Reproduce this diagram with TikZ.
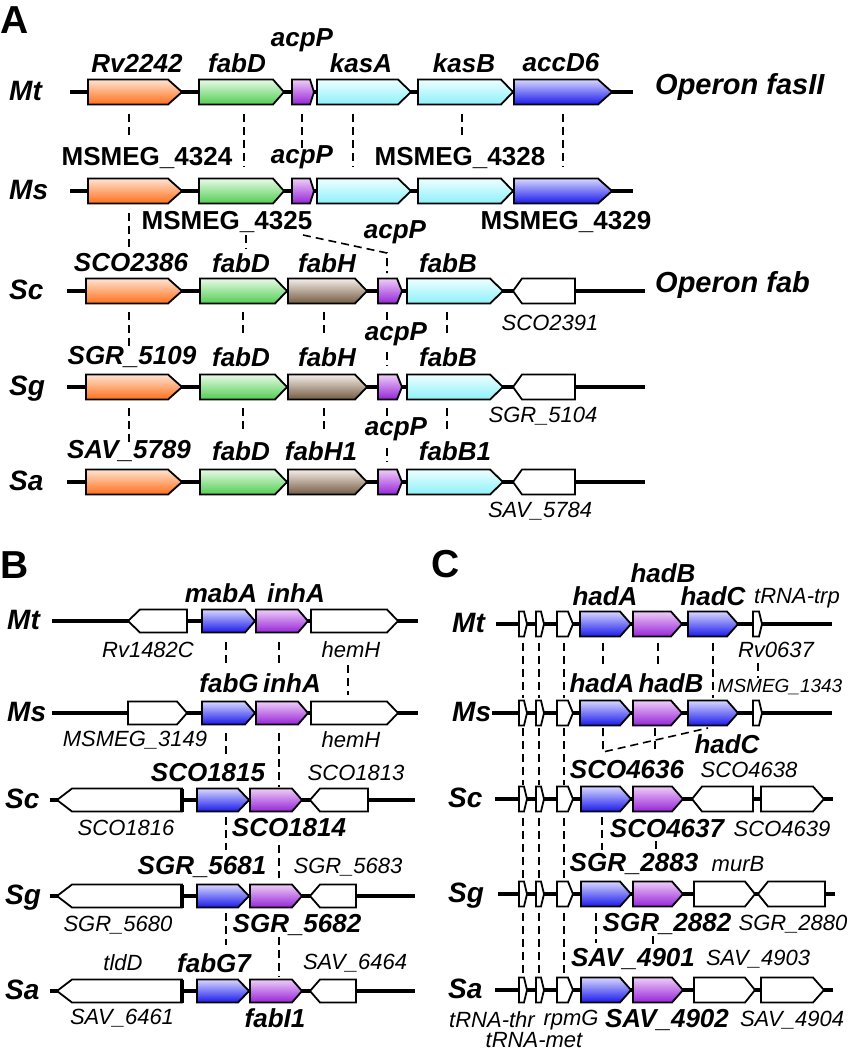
\documentclass[tikz,border=0pt]{standalone}
\usepackage{fontspec}
\setmainfont{Liberation Sans}
\usetikzlibrary{calc}
\definecolor{orT}{RGB}{255,228,210}\definecolor{orB}{RGB}{255,110,25}
\definecolor{grT}{RGB}{232,250,232}\definecolor{grB}{RGB}{80,205,80}
\definecolor{puT}{RGB}{238,205,248}\definecolor{puB}{RGB}{150,35,215}
\definecolor{cyT}{RGB}{238,255,255}\definecolor{cyB}{RGB}{140,240,250}
\definecolor{blT}{RGB}{215,215,255}\definecolor{blB}{RGB}{25,25,235}
\definecolor{brT}{RGB}{245,238,232}\definecolor{brB}{RGB}{115,90,65}
\def\gh{25}
\tikzset{
 gbox/.style={inner sep=0pt, outer sep=0pt, minimum height=\gh pt, draw=none},
 gline/.style={draw=black, line width=1.8pt},
 gOr/.style={gline, top color=orT, bottom color=orB},
 gGr/.style={gline, top color=grT, bottom color=grB},
 gPu/.style={gline, top color=puT, bottom color=puB},
 gCy/.style={gline, top color=cyT, bottom color=cyB},
 gBl/.style={gline, top color=blT, bottom color=blB},
 gBr/.style={gline, top color=brT, bottom color=brB},
 gWh/.style={gline, fill=white},
 backbone/.style={line width=4pt},
 homol/.style={line width=1.6pt, dash pattern=on 8pt off 5pt},
 blab/.style={inner sep=0pt, font=\fontsize{26}{28}\selectfont\bfseries\itshape},
 bup/.style={inner sep=0pt, font=\fontsize{26}{28}\selectfont\bfseries},
 rlab/.style={inner sep=0pt, font=\fontsize{22}{24}\selectfont\itshape},
 slab/.style={inner sep=0pt, font=\fontsize{19}{21}\selectfont\itshape},
 rowlab/.style={inner sep=0pt, anchor=base west, font=\fontsize{28}{30}\selectfont\bfseries\itshape},
 panlab/.style={inner sep=0pt, anchor=base west, font=\fontsize{39}{40}\selectfont\bfseries},
 oplab/.style={inner sep=0pt, anchor=west, font=\fontsize{29}{31}\selectfont\bfseries\itshape},
}
% forward gene: name, x1, x2, y, head length, style
\newcommand{\fg}[6]{%
 \node[gbox, minimum width={(#3)-(#2)}] (#1) at ({((#2)+(#3))/2},#4) {};
 \path[#6] (#1.north west) -- ([xshift=-#5pt]#1.north east) -- (#1.east) -- ([xshift=-#5pt]#1.south east) -- (#1.south west) -- cycle;}
% reverse gene: name, x1(tip), x2, y, head length, style
\newcommand{\rg}[6]{%
 \node[gbox, minimum width={(#3)-(#2)}] (#1) at ({((#2)+(#3))/2},#4) {};
 \path[#6] (#1.west) -- ([xshift=#5pt]#1.north west) -- (#1.north east) -- (#1.south east) -- ([xshift=#5pt]#1.south west) -- cycle;}
% dashed homology link: name, x, y1, y2
\newcommand{\dlink}[4]{%
 \coordinate (#1a) at (#2,#3); \coordinate (#1b) at (#2,#4);
 \draw[homol] (#1a) -- (#1b);}
\begin{document}
\begin{tikzpicture}[x=1pt,y=-1pt]
\useasboundingbox (0,0) rectangle (851,1050);
% ================= PANEL A =================
\def\gh{25}
\node[panlab] (pA) at (0,33) {A};
% rows
\node[rowlab] (rAMt) at (9,100) {Mt};
\node[rowlab] (rAMs) at (9,199) {Ms};
\node[rowlab] (rASc) at (9,299) {Sc};
\node[rowlab] (rASg) at (9,395) {Sg};
\node[rowlab] (rASa) at (9,490) {Sa};
% Mt
\draw[backbone] (70,92) -- (633,92);
\fg{aMt1}{88}{182}{92}{14}{gOr}
\fg{aMt2}{199}{284}{92}{11}{gGr}
\fg{aMt3}{292}{314}{92}{4}{gPu}
\fg{aMt4}{317}{411}{92}{13}{gCy}
\fg{aMt5}{418}{513}{92}{12}{gCy}
\fg{aMt6}{514}{612}{92}{14}{gBl}
\node[oplab] (opA) at (655,87) {Operon fasII};
\node[blab] (tA1) at (137,63) {Rv2242};
\node[blab] (tA2) at (237,63) {fabD};
\node[blab] (tA3) at (302,40) {acpP};
\node[blab] (tA4) at (361,63) {kasA};
\node[blab] (tA5) at (464,63) {kasB};
\node[blab] (tA6) at (561,63) {accD6};
% Ms
\draw[backbone] (70,191) -- (633,191);
\fg{aMs1}{88}{182}{191}{14}{gOr}
\fg{aMs2}{199}{284}{191}{11}{gGr}
\fg{aMs3}{292}{314}{191}{4}{gPu}
\fg{aMs4}{317}{411}{191}{13}{gCy}
\fg{aMs5}{418}{513}{191}{12}{gCy}
\fg{aMs6}{514}{612}{191}{14}{gBl}
\node[bup] (tA7) at (147,158) {MSMEG\_4324};
\node[blab] (tA8) at (302,157) {acpP};
\node[bup] (tA9) at (460,158) {MSMEG\_4328};
\node[bup] (tA10) at (227,222) {MSMEG\_4325};
\node[bup] (tA11) at (566,222) {MSMEG\_4329};
% Sc
\draw[backbone] (67,291) -- (645,291);
\fg{aSc1}{86}{182}{291}{14}{gOr}
\fg{aSc2}{200}{287}{291}{12}{gGr}
\fg{aSc3}{288}{367}{291}{12}{gBr}
\fg{aSc4}{378}{402}{291}{5}{gPu}
\fg{aSc5}{407}{503}{291}{13}{gCy}
\rg{aSc6}{513}{575}{291}{9}{gWh}
\node[oplab] (opB) at (655,285) {Operon fab};
\node[blab] (tA12) at (131,263) {SCO2386};
\node[blab] (tA13) at (241,263) {fabD};
\node[blab] (tA14) at (327,263) {fabH};
\node[blab] (tA15) at (395,232) {acpP};
\node[blab] (tA16) at (448,263) {fabB};
\node[rlab] (tA17) at (550,323) {SCO2391};
% Sg
\draw[backbone] (67,387) -- (645,387);
\fg{aSg1}{86}{182}{387}{14}{gOr}
\fg{aSg2}{200}{287}{387}{12}{gGr}
\fg{aSg3}{288}{367}{387}{12}{gBr}
\fg{aSg4}{378}{402}{387}{5}{gPu}
\fg{aSg5}{407}{503}{387}{13}{gCy}
\rg{aSg6}{513}{575}{387}{9}{gWh}
\node[blab] (tA18) at (132,357) {SGR\_5109};
\node[blab] (tA19) at (241,357) {fabD};
\node[blab] (tA20) at (327,357) {fabH};
\node[blab] (tA21) at (396,334) {acpP};
\node[blab] (tA22) at (448,357) {fabB};
\node[rlab] (tA23) at (543,416) {SGR\_5104};
% Sa
\draw[backbone] (67,482) -- (645,482);
\fg{aSa1}{86}{182}{482}{14}{gOr}
\fg{aSa2}{200}{287}{482}{12}{gGr}
\fg{aSa3}{288}{367}{482}{12}{gBr}
\fg{aSa4}{378}{402}{482}{5}{gPu}
\fg{aSa5}{407}{503}{482}{13}{gCy}
\rg{aSa6}{513}{575}{482}{9}{gWh}
\node[blab] (tA24) at (129,451) {SAV\_5789};
\node[blab] (tA25) at (241,451) {fabD};
\node[blab] (tA26) at (321,451) {fabH1};
\node[blab] (tA27) at (396,429) {acpP};
\node[blab] (tA28) at (455,451) {fabB1};
\node[rlab] (tA29) at (540,511) {SAV\_5784};
% homology links A
\dlink{hA1}{129}{114}{138}
\dlink{hA2}{244}{114}{167}
\dlink{hA3}{302}{114}{148}
\dlink{hA4}{353}{114}{167}
\dlink{hA5}{462}{114}{138}
\dlink{hA6}{563}{114}{167}
\dlink{hA7}{129}{213}{250}
\dlink{hA8}{246}{235}{249}
\coordinate (hA9a) at (303,235); \coordinate (hA9m) at (387,253); \coordinate (hA9b) at (387,273);
\draw[homol] (hA9a) -- (hA9m) -- (hA9b);
\dlink{hA10}{129}{312}{350}
\dlink{hA11}{243}{312}{337}
\dlink{hA12}{324}{312}{337}
\dlink{hA13}{387}{312}{325}
\dlink{hA14}{387}{352}{366}
\dlink{hA15}{447}{312}{337}
\dlink{hA16}{129}{408}{443}
\dlink{hA17}{243}{408}{432}
\dlink{hA18}{324}{408}{432}
\dlink{hA19}{387}{408}{420}
\dlink{hA20}{387}{448}{462}
\dlink{hA21}{447}{408}{432}
% ================= PANEL B =================
\def\gh{23}
\node[panlab] (pB) at (0,578) {B};
\node[rowlab] (rBMt) at (7,629) {Mt};
\node[rowlab] (rBMs) at (7,721) {Ms};
\node[rowlab] (rBSc) at (5,808) {Sc};
\node[rowlab] (rBSg) at (5,904) {Sg};
\node[rowlab] (rBSa) at (5,999) {Sa};
% Mt
\draw[backbone] (52,621) -- (418,621);
\rg{bMt1}{128}{187}{621}{12}{gWh}
\fg{bMt2}{202}{255}{621}{10}{gBl}
\fg{bMt3}{256}{308}{621}{10}{gPu}
\fg{bMt4}{311}{398}{621}{11}{gWh}
\node[blab] (tB1) at (221,593) {mabA};
\node[blab] (tB2) at (296,593) {inhA};
\node[rlab] (tB3) at (148,650) {Rv1482C};
\node[rlab] (tB4) at (351,650) {hemH};
% Ms
\draw[backbone] (52,713) -- (418,713);
\fg{bMs1}{128}{187}{713}{10}{gWh}
\fg{bMs2}{202}{255}{713}{10}{gBl}
\fg{bMs3}{256}{308}{713}{10}{gPu}
\fg{bMs4}{311}{398}{713}{11}{gWh}
\node[blab] (tB5) at (229,683) {fabG};
\node[blab] (tB6) at (292,683) {inhA};
\node[rlab] (tB7) at (135,740) {MSMEG\_3149};
\node[rlab] (tB8) at (351,740) {hemH};
% Sc
\draw[backbone] (50,800) -- (415,800);
\rg{bSc1}{57}{182}{800}{15}{gWh}
\draw[line width=3.5pt] (bSc1.north east) -- (bSc1.south east);
\fg{bSc2}{197}{249}{800}{11}{gBl}
\fg{bSc3}{250}{302}{800}{10}{gPu}
\rg{bSc4}{310}{368}{800}{10}{gWh}
\node[blab] (tB9) at (208,773) {SCO1815};
\node[rlab] (tB10) at (356,773) {SCO1813};
\node[rlab] (tB11) at (126,828) {SCO1816};
\node[blab] (tB12) at (289,828) {SCO1814};
% Sg
\draw[backbone] (50,896) -- (415,896);
\rg{bSg1}{57}{182}{896}{15}{gWh}
\draw[line width=3.5pt] (bSg1.north east) -- (bSg1.south east);
\fg{bSg2}{197}{249}{896}{11}{gBl}
\fg{bSg3}{250}{302}{896}{10}{gPu}
\rg{bSg4}{310}{356}{896}{10}{gWh}
\node[blab] (tB13) at (202,867) {SGR\_5681};
\node[rlab] (tB14) at (348,867) {SGR\_5683};
\node[rlab] (tB15) at (118,925) {SGR\_5680};
\node[blab] (tB16) at (297,925) {SGR\_5682};
% Sa
\draw[backbone] (50,991) -- (415,991);
\rg{bSa1}{57}{182}{991}{15}{gWh}
\draw[line width=3.5pt] (bSa1.north east) -- (bSa1.south east);
\fg{bSa2}{197}{249}{991}{11}{gBl}
\fg{bSa3}{250}{302}{991}{10}{gPu}
\rg{bSa4}{310}{356}{991}{10}{gWh}
\node[rlab] (tB17) at (123,963) {tldD};
\node[blab] (tB18) at (214,963) {fabG7};
\node[rlab] (tB19) at (355,963) {SAV\_6464};
\node[rlab] (tB20) at (122,1018) {SAV\_6461};
\node[blab] (tB21) at (275,1018) {fabI1};
% homology links B
\dlink{hB1}{226}{642}{665}
\dlink{hB2}{279}{642}{665}
\dlink{hB3}{348}{665}{695}
\dlink{hB4}{226}{733}{755}
\dlink{hB5}{279}{733}{787}
\dlink{hB6}{226}{817}{850}
\dlink{hB7}{279}{845}{878}
\dlink{hB8}{226}{913}{945}
\dlink{hB9}{279}{937}{977}
% ================= PANEL C =================
\def\gh{25}
\node[panlab] (pC) at (431,577) {C};
\node[rowlab] (rCMt) at (452,632) {Mt};
\node[rowlab] (rCMs) at (452,721) {Ms};
\node[rowlab] (rCSc) at (448,807) {Sc};
\node[rowlab] (rCSg) at (448,902) {Sg};
\node[rowlab] (rCSa) at (448,998) {Sa};
% Mt
\draw[backbone] (496,624) -- (832,624);
\fg{cMt1}{519}{527}{624}{3}{gWh}
\fg{cMt2}{536}{544}{624}{3}{gWh}
\fg{cMt3}{557}{573}{624}{5}{gWh}
\fg{cMt4}{580}{631}{624}{11}{gBl}
\fg{cMt5}{633}{682}{624}{11}{gPu}
\fg{cMt6}{688}{738}{624}{11}{gBl}
\fg{cMt7}{753}{762}{624}{3}{gWh}
\node[blab] (tC1) at (605,596) {hadA};
\node[blab] (tC2) at (663,573) {hadB};
\node[blab] (tC3) at (713,596) {hadC};
\node[rlab] (tC4) at (797,598) {tRNA-trp};
\node[rlab] (tC5) at (776,650) {Rv0637};
% Ms
\draw[backbone] (492,713) -- (832,713);
\fg{cMs1}{519}{527}{713}{3}{gWh}
\fg{cMs2}{536}{544}{713}{3}{gWh}
\fg{cMs3}{557}{573}{713}{5}{gWh}
\fg{cMs4}{580}{631}{713}{11}{gBl}
\fg{cMs5}{633}{682}{713}{11}{gPu}
\fg{cMs6}{688}{738}{713}{11}{gBl}
\fg{cMs7}{753}{762}{713}{3}{gWh}
\node[blab] (tC6) at (602,683) {hadA};
\node[blab] (tC7) at (671,683) {hadB};
\node[slab] (tC8) at (780,687) {MSMEG\_1343};
\node[blab] (tC9) at (727,744) {hadC};
% Sc
\draw[backbone] (495,799) -- (833,799);
\fg{cSc1}{519}{527}{799}{3}{gWh}
\fg{cSc2}{536}{544}{799}{3}{gWh}
\fg{cSc3}{557}{573}{799}{5}{gWh}
\fg{cSc4}{581}{631}{799}{11}{gBl}
\fg{cSc5}{633}{683}{799}{11}{gPu}
\rg{cSc6}{692}{753}{799}{10}{gWh}
\fg{cSc7}{761}{824}{799}{11}{gWh}
\node[blab] (tC10) at (627,770) {SCO4636};
\node[rlab] (tC11) at (749,770) {SCO4638};
\node[blab] (tC12) at (667,829) {SCO4637};
\node[rlab] (tC13) at (782,829) {SCO4639};
% Sg
\draw[backbone] (498,894) -- (835,894);
\fg{cSg1}{519}{527}{894}{3}{gWh}
\fg{cSg2}{536}{544}{894}{3}{gWh}
\fg{cSg3}{557}{573}{894}{5}{gWh}
\fg{cSg4}{581}{631}{894}{11}{gBl}
\fg{cSg5}{633}{683}{894}{11}{gPu}
\fg{cSg6}{694}{755}{894}{10}{gWh}
\rg{cSg7}{758}{825}{894}{10}{gWh}
\node[blab] (tC14) at (634,864) {SGR\_2883};
\node[rlab] (tC15) at (738,864) {murB};
\node[blab] (tC16) at (667,924) {SGR\_2882};
\node[rlab] (tC17) at (793,924) {SGR\_2880};
% Sa
\draw[backbone] (495,990) -- (833,990);
\fg{cSa1}{519}{527}{990}{3}{gWh}
\fg{cSa2}{536}{544}{990}{3}{gWh}
\fg{cSa3}{557}{573}{990}{5}{gWh}
\fg{cSa4}{581}{631}{990}{11}{gBl}
\fg{cSa5}{633}{683}{990}{11}{gPu}
\fg{cSa6}{694}{755}{990}{10}{gWh}
\fg{cSa7}{761}{824}{990}{11}{gWh}
\node[blab] (tC18) at (633,959) {SAV\_4901};
\node[rlab] (tC19) at (758,959) {SAV\_4903};
\node[rlab] (tC20) at (492,1020) {tRNA-thr};
\node[rlab] (tC21) at (571,1020) {rpmG};
\node[blab] (tC22) at (667,1020) {SAV\_4902};
\node[rlab] (tC23) at (792,1020) {SAV\_4904};
\node[rlab] (tC24) at (534,1040) {tRNA-met};
% homology links C
\dlink{hC1}{523}{643}{698}
\dlink{hC2}{539}{643}{698}
\dlink{hC3}{564}{643}{698}
\dlink{hC4}{523}{728}{785}
\dlink{hC5}{539}{728}{785}
\dlink{hC6}{564}{728}{785}
\dlink{hC7}{523}{818}{879}
\dlink{hC8}{539}{818}{879}
\dlink{hC9}{564}{818}{879}
\dlink{hC10}{523}{913}{975}
\dlink{hC11}{539}{913}{975}
\dlink{hC12}{564}{913}{975}
\dlink{hC13}{603}{643}{667}
\dlink{hC14}{658}{643}{667}
\dlink{hC15}{713}{643}{698}
\dlink{hC16}{758}{663}{678}
\coordinate (hC17a) at (603,728); \coordinate (hC17m) at (603,752); \coordinate (hC17b) at (708,728);
\draw[homol] (hC17a) -- (hC17m) -- (hC17b);
\dlink{hC18}{655}{728}{751}
\dlink{hC19}{602}{817}{850}
\dlink{hC20}{656}{841}{852}
\dlink{hC21}{596}{913}{943}
\dlink{hC22}{653}{936}{944}
\end{tikzpicture}
\end{document}
